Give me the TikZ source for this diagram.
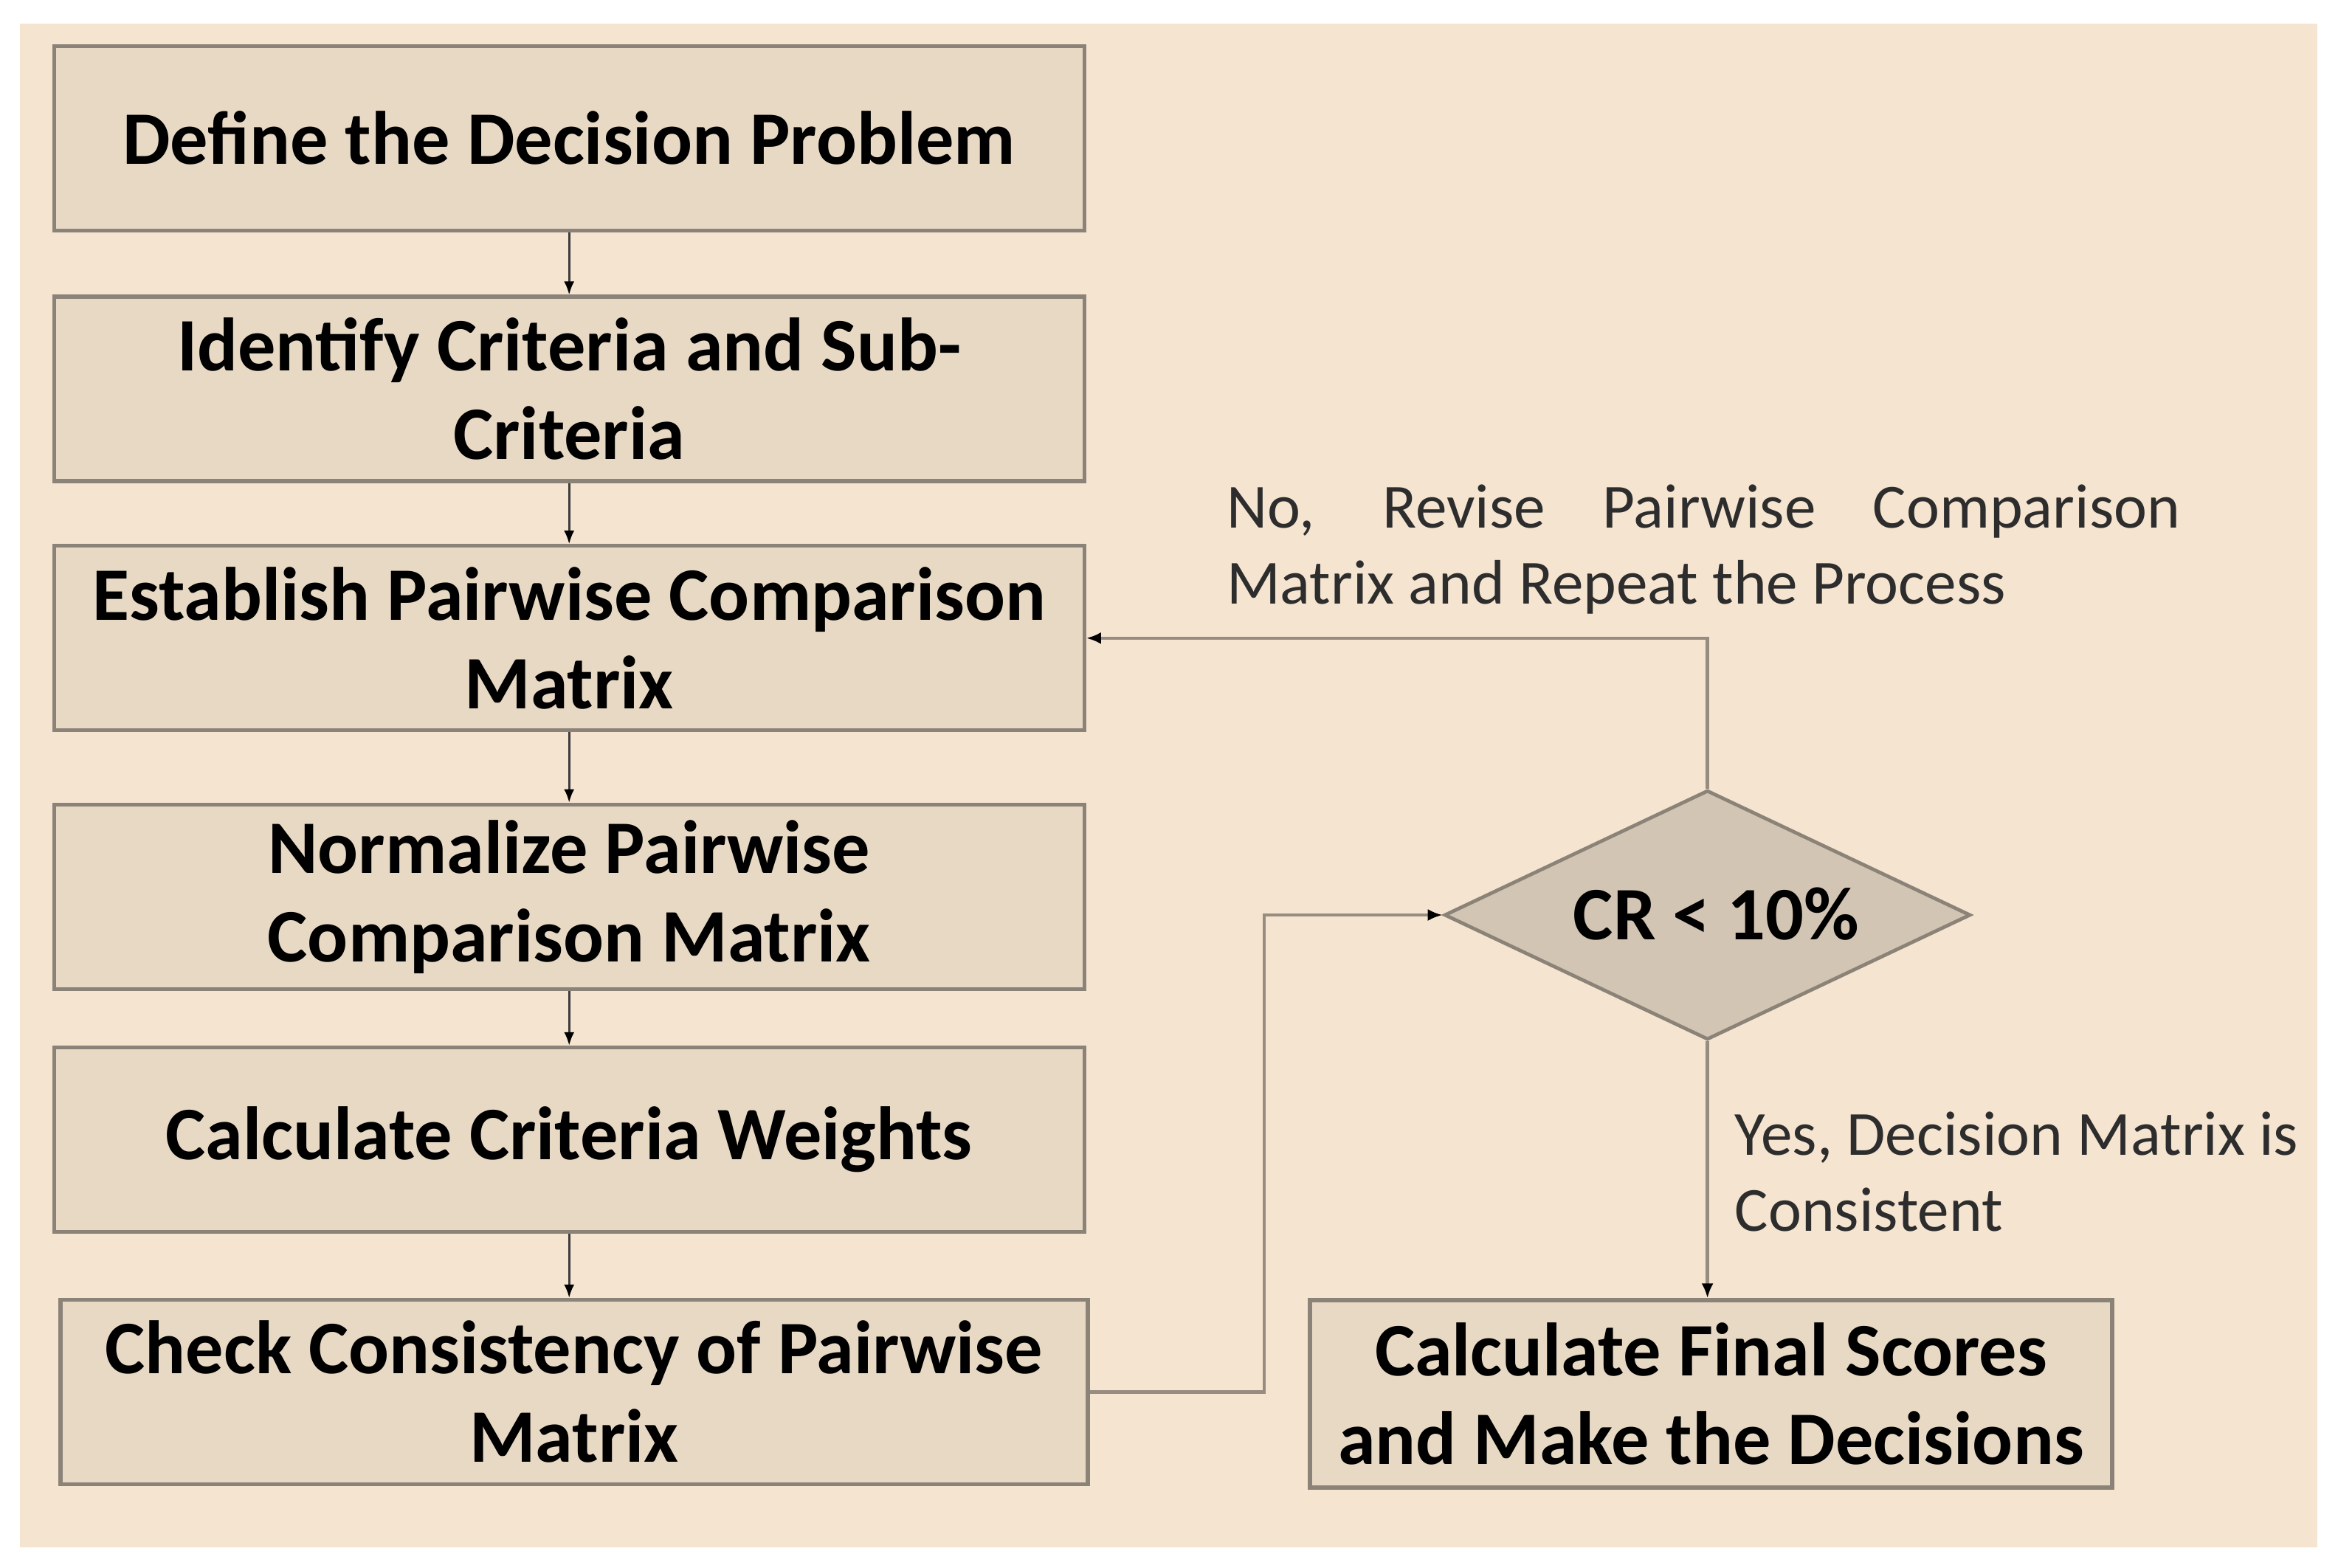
\documentclass[tikz,border=0pt]{standalone}
\usepackage{fontspec}
\setmainfont{Carlito}
\usetikzlibrary{shapes.geometric,arrows.meta}
\definecolor{bgc}{RGB}{245,228,208}
\definecolor{boxfill}{RGB}{232,217,197}
\definecolor{boxedge}{RGB}{140,131,120}
\definecolor{diafill}{RGB}{211,197,180}
\definecolor{loopc}{RGB}{150,140,128}
\definecolor{lblc}{RGB}{45,45,45}
\definecolor{connc}{RGB}{60,60,60}
\begin{document}
\begin{tikzpicture}[x=1pt,y=-1pt,
  procbox/.style={draw=boxedge, line width=1.3pt, fill=boxfill, minimum width=349pt,
    minimum height=62.5pt, align=center, inner sep=0pt,
    font=\fontsize{25.6}{30}\selectfont\bfseries, text=black},
  decision/.style={diamond, draw=boxedge, line width=1.2pt, fill=diafill,
    minimum width=178.25pt, minimum height=84.5pt, inner sep=0pt,
    font=\fontsize{25.6}{30}\selectfont\bfseries, text=black},
  conn/.style={draw=connc, line width=0.7pt, -{Latex[length=4.5pt,width=3.5pt,color=black]}},
  loopline/.style={draw=loopc, line width=1.1pt, -{Latex[length=5pt,width=4pt,color=black]}},
  lbl/.style={font=\fontsize{21.3}{25.75}\selectfont, text=lblc, align=left, inner sep=0pt}
]
\useasboundingbox (0,0) rectangle (792,531);
\fill[white] (0,0) rectangle (792,531);
\fill[bgc] (6.75,8) rectangle (785,524.25);

\node[procbox] (b1) at (192.8,46.8) {Define the Decision Problem};
\node[procbox] (b2) at (192.8,131.75) {Identify Criteria and Sub-\\Criteria};
\node[procbox] (b3) at (192.8,216.2) {Establish Pairwise Comparison\\Matrix};
\node[procbox] (b4) at (192.8,303.8) {Normalize Pairwise\\Comparison Matrix};
\node[procbox] (b5) at (192.8,386.1) {Calculate Criteria Weights};
\node[procbox, minimum width=348pt] (b6) at (194.5,471.6) {Check Consistency of Pairwise\\Matrix};
\node[procbox, minimum width=271.75pt, minimum height=63.5pt] (b7) at (579.6,472.25) {Calculate Final Scores\\and Make the Decisions};
\node[decision] (d) at (578.4,310) {\makebox[0pt]{\hspace*{6pt}\raisebox{-0.322em}[0pt][0pt]{CR < 10\%}}};

\node[lbl, anchor=base west] (nolbl) at (415.3,204.55) {\makebox[323pt][s]{No, Revise Pairwise Comparison}\\Matrix and Repeat the Process};
\node[lbl, anchor=base west] (yeslbl) at (587.5,417) {Yes, Decision Matrix is\\Consistent};

\coordinate (jx) at (428.3,0);

\draw[conn] (b1.south) -- (b2.north);
\draw[conn] (b2.south) -- (b3.north);
\draw[conn] (b3.south) -- (b4.north);
\draw[conn] (b4.south) -- (b5.north);
\draw[conn] (b5.south) -- (b5.south |- b6.north);
\draw[loopline] (b6.east) -- (b6.east -| jx) |- (d.west);
\draw[loopline] (d.north) |- (b3.east);
\draw[loopline] (d.south) -- (d.south |- b7.north);
\end{tikzpicture}
\end{document}
